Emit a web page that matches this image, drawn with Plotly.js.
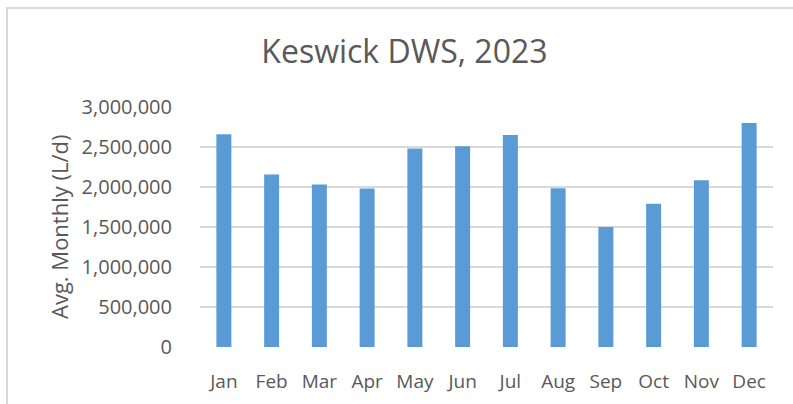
<!DOCTYPE html>
<html>
<head>
<meta charset="utf-8">
<script src="https://cdn.plot.ly/plotly-3.0.1.min.js"></script>
<style>
html,body{margin:0;padding:0;background:#fff;overflow:hidden;}
#chart{width:793px;height:404px;position:absolute;left:0;top:0;}
#frame{position:absolute;left:6px;top:7px;width:800px;height:410px;border-left:2px solid #d9d9d9;border-top:2px solid #d9d9d9;pointer-events:none;}
</style>
</head>
<body>
<div id="chart"></div>
<div id="frame"></div>
<script>
const months = ["Jan","Feb","Mar","Apr","May","Jun","Jul","Aug","Sep","Oct","Nov","Dec"];
const flows = [2660000,2155000,2030000,1980000,2480000,2510000,2650000,1985000,1500000,1790000,2085000,2800000];
const yTicks = [0,500000,1000000,1500000,2000000,2500000,3000000];
const yTickText = ["0","500,000","1,000,000","1,500,000","2,000,000","2,500,000","3,000,000"];
const titleText = "Keswick DWS, 2023";
const yTitle = "Avg. Monthly (L/d)";

const font = "Open Sans, sans-serif";
Plotly.newPlot("chart", [{
  type: "bar",
  x: months,
  y: flows,
  marker: {color: "#5B9BD5"},
  hoverinfo: "x+y"
}], {
  width: 793, height: 404,
  margin: {l: 200, r: 20, t: 107, b: 57, pad: 0},
  paper_bgcolor: "#fff", plot_bgcolor: "#fff",
  bargap: 0.686,
  showlegend: false,
  title: {text: titleText, font: {family: font, size: 32, color: "#595959"}, x: 0.51, xanchor: "center", y: 0.872, yanchor: "middle"},
  xaxis: {
    range: [-0.5, 11.5], automargin: false,
    tickfont: {family: font, size: 19, color: "#595959"},
    ticks: "outside", ticklen: 17, tickcolor: "rgba(0,0,0,0)",
    showgrid: false, zeroline: false, showline: false
  },
  yaxis: {
    range: [0, 3000000], automargin: false,
    tickvals: yTicks, ticktext: yTickText,
    tickfont: {family: font, size: 20, color: "#595959"},
    ticks: "outside", ticklen: 23, tickcolor: "rgba(0,0,0,0)",
    showgrid: true, gridcolor: "#d9d9d9", gridwidth: 1.5,
    zeroline: false, showline: false
  },
  annotations: [{
    text: yTitle, textangle: -90, showarrow: false,
    xref: "paper", yref: "paper", x: (59-200)/573, y: 0.5,
    xanchor: "center", yanchor: "middle",
    font: {family: font, size: 22, color: "#595959"}
  }]
}, {displayModeBar: false, staticPlot: true});
</script>
</body>
</html>
